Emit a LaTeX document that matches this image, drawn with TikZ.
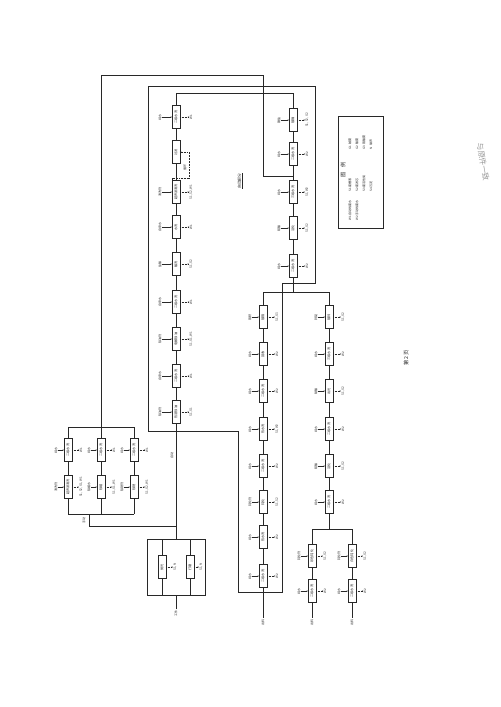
\documentclass[tikz,border=0pt]{standalone}
\usepackage{fontspec}
\setmainfont{Noto Sans CJK SC}
\usepackage{tikz}
\usetikzlibrary{arrows.meta, positioning, calc}
\usepackage{xcolor}
\definecolor{ink}{RGB}{40,40,40}

\begin{document}
\begin{tikzpicture}[x=0.05cm, y=-0.05cm, line width=0.45pt, color=ink,
  proc/.style={draw, fill=white, rotate=90, minimum width=1.15cm, minimum height=0.38cm, inner sep=0.4pt, font=\fontsize{4.5}{5}\selectfont},
  lab/.style={rotate=90, inner sep=0.6pt, font=\fontsize{4.3}{5}\selectfont},
  feed/.style={-{Stealth[length=2pt,width=1.6pt]}},
  waste/.style={dash pattern=on 1.3pt off 0.9pt, -{Stealth[length=2pt,width=1.6pt]}}]
  \useasboundingbox[fill=white] (0,0) rectangle (500,707);

  % frame of the automatic line
  \draw (148,86) -- (315,86) -- (315,283) -- (282,283) -- (282,592) -- (238,592) -- (238,431) -- (148,431) -- cycle;
  \node[lab, font=\fontsize{5.5}{6}\selectfont] (auto) at (240,181) {\underline{自动部分}};

  % left column, bottom to top
  \foreach \n/\y/\t/\ia/\ob in {1/412/热浸除油/除油剂/{S1, G1}, 2/376/二级水洗/自来水/W1,
      3/339/电解除油/除油剂/{S1, G1, W1}, 4/302/二级水洗/自来水/W1, 5/264/酸洗/盐酸/{S1, G2},
      6/227/水洗/自来水/W1, 7/192/超声波清洗/清洗剂/{S1, S2, W1}, 9/117/二级水洗/纯水/W1} {
    \node[proc] (A\n) at (176,\y) {\t};
    \node[lab] (Ai\n) at (160,\y) {\ia};
    \node[lab] (Ao\n) at (191,\y) {\ob};
    \draw[feed] (Ai\n) -- (A\n);
    \draw[waste] (A\n) -- (Ao\n);
  }
  \node[proc] (A8) at (176,152) {过滤};
  \foreach \a/\b in {1/2,2/3,3/4,4/5,5/6,6/7,7/8,8/9} \draw (A\a) -- (A\b);
  \coordinate (lp) at (189,178);
  \draw[waste] (A7.north east) |- (lp) |- (A8);
  \node[lab] (lpl) at (185,167) {循环};

  % upper right column, top to bottom
  \foreach \n/\y/\t/\ia/\ob in {1/120/镀镍/镍盐/{S1, S2, G2}, 2/154/二级水洗/纯水/W2,
      3/192/三级水洗/纯水/{S1, W2}, 4/228/活化/硫酸/{S1, G2}, 5/266/二级水洗/纯水/W2} {
    \node[proc] (B\n) at (293,\y) {\t};
    \node[lab] (Bi\n) at (279,\y) {\ia};
    \node[lab] (Bo\n) at (307,\y) {\ob};
    \draw[feed] (Bi\n) -- (B\n);
    \draw[waste] (B\n) -- (Bo\n);
  }
  \foreach \a/\b in {1/2,2/3,3/4,4/5} \draw (B\a) -- (B\b);
  \coordinate (topA) at (293,93);
  \draw (A9) |- (topA) -- (B1);

  % middle column
  \foreach \n/\y/\t/\ia/\ob in {1/317/镀铬/铬酐/{S1, G3}, 2/354/回收/纯水/W2,
      3/391/二级水洗/纯水/W2, 4/429/热水洗/纯水/{S1, W2}, 5/466/二级水洗/纯水/W2,
      6/502/钝化/钝化剂/{S1, S2}, 7/537/热水洗/纯水/W2, 8/576/二级水洗/纯水/W2} {
    \node[proc] (C\n) at (263,\y) {\t};
    \node[lab] (Ci\n) at (250,\y) {\ia};
    \node[lab] (Co\n) at (277,\y) {\ob};
    \draw[feed] (Ci\n) -- (C\n);
    \draw[waste] (C\n) -- (Co\n);
  }
  \foreach \a/\b in {1/2,2/3,3/4,4/5,5/6,6/7,7/8} \draw (C\a) -- (C\b);

  % right column
  \foreach \n/\y/\t/\ia/\ob in {1/317/镀锌/锌锭/{S1, G2}, 2/354/三级水洗/纯水/W2,
      3/391/出光/硝酸/{S1, G2}, 4/429/二级水洗/纯水/W2, 5/466/活化/硫酸/{S1, G2},
      6/502/二级水洗/纯水/W2} {
    \node[proc] (D\n) at (329,\y) {\t};
    \node[lab] (Di\n) at (316,\y) {\ia};
    \node[lab] (Do\n) at (343,\y) {\ob};
    \draw[feed] (Di\n) -- (D\n);
    \draw[waste] (D\n) -- (Do\n);
  }
  \foreach \a/\b in {1/2,2/3,3/4,4/5,5/6} \draw (D\a) -- (D\b);

  % two passivation branches
  \foreach \c/\x/\ta/\tb in {E/312/彩色钝化/二级水洗, F/352/白色钝化/二级水洗} {
    \node[proc] (\c1) at (\x,556) {\ta};
    \node[proc] (\c2) at (\x,591) {\tb};
    \node[lab] (\c i1) at (\x-13,556) {钝化剂};
    \node[lab] (\c i2) at (\x-13,591) {纯水};
    \node[lab] (\c o1) at (\x+13,556) {S1, G2};
    \node[lab] (\c o2) at (\x+13,591) {W2};
    \node[lab] (\c out) at (\x,622) {出料};
    \draw[feed] (\c i1) -- (\c1);
    \draw[feed] (\c i2) -- (\c2);
    \draw[waste] (\c1) -- (\c o1);
    \draw[waste] (\c2) -- (\c o2);
    \draw (\c1) -- (\c2);
    \draw (\c2) -- (\c out);
  }
  \node[lab] (Cout) at (263,622) {出料};
  \draw (C8) -- (Cout);

  % splits
  \coordinate (sB) at (293,292);
  \coordinate (sBl) at (263,292);
  \coordinate (sBr) at (329,292);
  \draw (B5) -- (sB);
  \draw (sBl) -- (sBr);
  \draw (sBl) -- (C1);
  \draw (sBr) -- (D1);
  \coordinate (sD) at (329,529);
  \coordinate (sDl) at (312,529);
  \coordinate (sDr) at (352,529);
  \draw (D6) -- (sD);
  \draw (sDl) -- (sDr);
  \draw (sDl) -- (E1);
  \draw (sDr) -- (F1);

  % manual part, three parallel lines
  \foreach \c/\x/\ta/\ia/\ob in {1/68/超声波清洗/清洗剂/{S1, S2, G1, W1}, 2/101/除蜡/除蜡水/{S1, G1, W1}, 3/134/除锈/除锈剂/{S1, G2, W1}} {
    \node[proc] (L\c a) at (\x,487) {\ta};
    \node[proc] (L\c b) at (\x,450) {二级水洗};
    \node[lab] (Li\c a) at (\x-12,487) {\ia};
    \node[lab] (Li\c b) at (\x-12,450) {纯水};
    \node[lab] (Lo\c a) at (\x+13,487) {\ob};
    \node[lab] (Lo\c b) at (\x+13,450) {W1};
    \draw[feed] (Li\c a) -- (L\c a);
    \draw[feed] (Li\c b) -- (L\c b);
    \draw[waste] (L\c a) -- (Lo\c a);
    \draw[waste] (L\c b) -- (Lo\c b);
    \draw (\x,514) -- (L\c a);
    \draw (L\c a) -- (L\c b);
    \draw (L\c b) -- (\x,427);
  }
  \draw (68,514) -- (134,514);
  \draw (68,427) -- (134,427);
  \coordinate (mTop) at (101,427);
  \coordinate (jB) at (293,176);
  \draw (mTop) -- (101,75) -| (263,176) -- (jB);

  % pre-treatment and feed
  \draw (147,539) rectangle (205,595);
  \node[proc] (P1) at (162,567) {抛光};
  \node[proc] (P2) at (190,567) {打磨};
  \node[lab] (Po1) at (175,567) {S1, N};
  \node[lab] (Po2) at (201,567) {S1, N};
  \draw[waste] (P1) -- (Po1);
  \draw[waste] (P2) -- (Po2);
  \foreach \p/\x in {P1/162, P2/190} {
    \draw (\x,539) -- (\p);
    \draw (\p) -- (\x,595);
  }
  \node[lab] (src) at (176,613) {工件};
  \draw (src) -- (176,595);
  \coordinate (br) at (176,526);
  \draw (176,539) -- (A1);
  \draw (br) -- (89,526) -- (89,514);
  \node[lab] (man) at (84,520) {手动};
  \node[lab] (aut) at (172,455) {自动};

  % legend
  \draw (338,116) rectangle (383,228);
  \node[lab, font=\fontsize{7.5}{8}\selectfont] (lgT) at (343,170) {图\quad 例};
  \foreach \x/\y/\t in {350/221/W1\ 自动线废水, 357/221/W2\ 手动线废水,
      350/192/S1\ 废槽液, 357/192/S2\ 废滤芯, 364/192/S3\ 废活性炭, 371/192/S4\ 污泥,
      350/150/G1\ 碱雾, 357/150/G2\ 酸雾, 364/150/G3\ 铬酸雾, 371/150/N\ \ 噪声} {
    \node[lab, anchor=west] at (\x,\y) {\t};
  }

  % page number and note
  \node[lab, font=\fontsize{7.5}{8}\selectfont] (page) at (406,358) {第\ 2\ 页};
  \node[rotate=-80, text=black!40, font=\fontsize{11}{12}\selectfont] (note) at (483,162) {与原件一致};
\end{tikzpicture}
\end{document}
